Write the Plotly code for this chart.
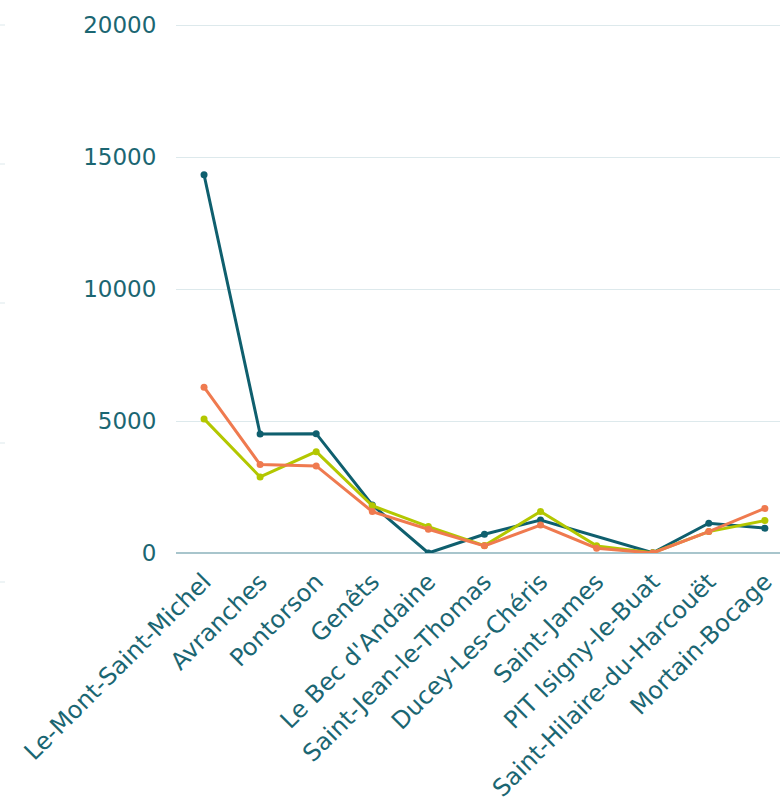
import plotly.graph_objects as go

categories = ["Le-Mont-Saint-Michel", "Avranches", "Pontorson", "Genêts", "Le Bec d'Andaine",
              "Saint-Jean-le-Thomas", "Ducey-Les-Chéris", "Saint-James", "PIT Isigny-le-Buat",
              "Saint-Hilaire-du-Harcouët", "Mortain-Bocage"]
series_teal = [14330, 4510, 4520, 1820, 0, 710, 1250, None, 10, 1130, 940]
series_green = [5080, 2880, 3840, 1790, 1000, 280, 1570, 270, 10, 810, 1230]
series_orange = [6280, 3350, 3300, 1570, 900, 270, 1060, 180, 0, 810, 1690]
y_ticks = [0, 5000, 10000, 15000, 20000]
y_tick_labels = ["0", "5000", "10000", "15000", "20000"]

TEXT = "#1b6672"
FONT = "DejaVu Sans"

fig = go.Figure()
for vals, col in [(series_teal, "#0f5f6e"), (series_green, "#b3c700"), (series_orange, "#ef7a4f")]:
    fig.add_trace(go.Scatter(x=categories, y=vals, mode="lines+markers",
                             line=dict(color=col, width=3), marker=dict(color=col, size=7),
                             connectgaps=True, showlegend=False))

W, H = 780, 802
ml, mr, mt, mb = 176, 0, 24, 249
pw, ph = W - ml - mr, H - mt - mb

# short decorative grid stubs at the far left edge
stub_px = [25, 164, 303, 443, 582]
shapes = []
for py in stub_px:
    yp = (H - mb - py) / ph
    shapes.append(dict(type="line", xref="paper", yref="paper",
                       x0=-ml / pw, x1=(-ml + 5) / pw, y0=yp, y1=yp,
                       line=dict(color="#dde9ec", width=1)))

fig.update_layout(
    width=W, height=H, margin=dict(l=ml, r=mr, t=mt, b=mb, autoexpand=False),
    paper_bgcolor="white", plot_bgcolor="white",
    font=dict(family=FONT, color=TEXT, size=20),
    shapes=shapes,
    xaxis=dict(range=[-0.5, 10.27], tickangle=-45, automargin=False,
               showgrid=False, zeroline=False, showline=False,
               ticks="outside", ticklen=4, tickcolor="rgba(0,0,0,0)",
               tickfont=dict(size=24, color=TEXT, family=FONT)),
    yaxis=dict(range=[0, 20040], tickvals=y_ticks, ticktext=y_tick_labels, automargin=False,
               showgrid=True, gridcolor="#dde9ec", gridwidth=1,
               zeroline=True, zerolinecolor="#a8c5cc", zerolinewidth=1.5, showline=False,
               ticks="outside", ticklen=14, tickcolor="rgba(0,0,0,0)",
               tickfont=dict(size=23, color=TEXT, family=FONT)),
)

fig.write_html("out.html", config={"displayModeBar": False},
               post_script="document.body.style.margin='0';document.body.style.overflow='hidden';")
